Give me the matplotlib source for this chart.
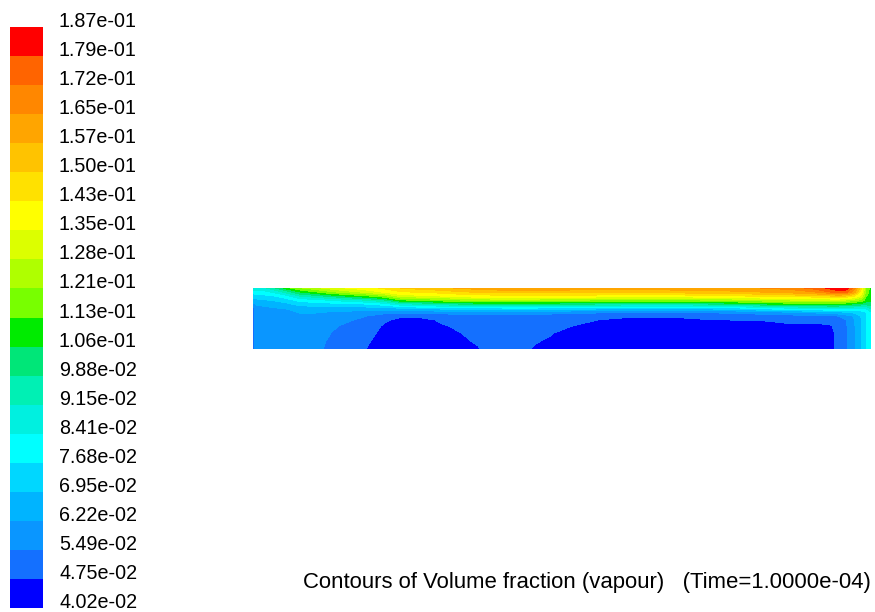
import numpy as np
import matplotlib
matplotlib.use("Agg")
import matplotlib.pyplot as plt
from matplotlib.colors import ListedColormap, BoundaryNorm
from matplotlib.ticker import NullLocator
import matplotlib.colorbar as mcolorbar

plt.rcParams['font.family'] = ['Liberation Sans', 'DejaVu Sans']

# ---- data ----
levels = [0.0402, 0.0475, 0.0549, 0.0622, 0.0695, 0.0768, 0.0841, 0.0915,
          0.0988, 0.106, 0.113, 0.121, 0.128, 0.135, 0.143, 0.150, 0.157,
          0.165, 0.172, 0.179, 0.187]
tick_labels = ["4.02e-02", "4.75e-02", "5.49e-02", "6.22e-02", "6.95e-02",
               "7.68e-02", "8.41e-02", "9.15e-02", "9.88e-02", "1.06e-01",
               "1.13e-01", "1.21e-01", "1.28e-01", "1.35e-01", "1.43e-01",
               "1.50e-01", "1.57e-01", "1.65e-01", "1.72e-01", "1.79e-01",
               "1.87e-01"]
band_colors = ["#0000ff", "#1470ff", "#0a96ff", "#00b4ff", "#00d7ff",
               "#00ffff", "#00f0e0", "#00f0b4", "#00e678", "#00eb00",
               "#78ff00", "#afff00", "#dcff00", "#ffff00", "#ffe100",
               "#ffc300", "#ffa500", "#ff8700", "#ff6400", "#ff0000"]

# domain coordinates (distance along the channel, depth from top surface)
x_pos = [0, 4, 12, 22, 34, 47, 62, 77, 92, 107, 119, 132, 147, 167, 187,
         207, 225, 237, 252, 267, 282, 297, 317, 337, 362, 387, 417, 447,
         477, 507, 537, 562, 577, 585, 593, 601, 608, 613, 618]
depth = [0, 4, 8, 12, 16, 20, 24, 28, 32, 38, 45, 53, 61]

# vapour volume fraction in percent, one list per x position (top -> bottom)
vf_columns = [
    [8.8, 8.0, 7.3, 6.6, 6.0, 5.3, 5.2, 5.2, 5.2, 5.2, 5.2, 5.2, 5.2],
    [8.8, 8.1, 7.4, 6.8, 6.3, 6.0, 5.9, 5.8, 5.8, 5.8, 5.8, 5.8, 5.8],
    [9.0, 8.2, 7.5, 6.9, 6.4, 6.1, 5.9, 5.8, 5.8, 5.8, 5.8, 5.8, 5.8],
    [9.8, 8.6, 7.7, 7.1, 6.5, 6.2, 6.0, 5.9, 5.8, 5.8, 5.8, 5.8, 5.8],
    [11.0, 9.5, 8.2, 7.4, 6.8, 6.3, 6.0, 5.9, 5.8, 5.8, 5.8, 5.8, 5.8],
    [12.0, 10.6, 9.2, 8.0, 7.2, 6.6, 6.3, 6.0, 5.9, 5.8, 5.8, 5.8, 5.8],
    [12.6, 11.2, 9.6, 8.2, 7.3, 6.7, 6.3, 6.0, 5.8, 5.7, 5.6, 5.6, 5.6],
    [13.1, 11.9, 10.1, 8.5, 7.4, 6.7, 6.2, 5.9, 5.7, 5.6, 5.5, 5.45, 5.4],
    [13.5, 12.4, 10.6, 8.8, 7.5, 6.7, 6.1, 5.8, 5.6, 5.4, 5.3, 5.2, 5.2],
    [13.8, 12.8, 11.0, 9.1, 7.6, 6.7, 6.0, 5.6, 5.4, 5.2, 5.1, 5.0, 4.9],
    [14.1, 13.2, 11.4, 9.4, 7.8, 6.7, 5.9, 5.4, 5.1, 4.95, 4.85, 4.72, 4.6],
    [14.5, 13.6, 11.9, 9.9, 8.1, 6.8, 5.8, 5.1, 4.85, 4.65, 4.55, 4.5, 4.5],
    [15.0, 14.2, 13.0, 11.2, 8.9, 7.0, 5.8, 4.85, 4.6, 4.5, 4.45, 4.45, 4.5],
    [15.3, 14.4, 13.3, 11.5, 9.3, 7.2, 5.8, 4.85, 4.6, 4.5, 4.5, 4.5, 4.55],
    [15.5, 14.6, 13.5, 11.8, 9.6, 7.3, 5.9, 5.0, 4.8, 4.7, 4.6, 4.6, 4.6],
    [15.8, 14.9, 13.8, 12.1, 9.9, 7.5, 6.0, 5.1, 4.9, 4.82, 4.74, 4.68, 4.65],
    [16.0, 15.1, 14.0, 12.3, 10.1, 7.6, 6.0, 5.2, 4.95, 4.9, 4.85, 4.8, 4.72],
    [16.1, 15.2, 14.0, 12.4, 10.1, 7.6, 6.0, 5.3, 5.0, 4.95, 4.95, 4.9, 4.9],
    [16.2, 15.3, 14.1, 12.4, 10.2, 7.7, 6.0, 5.3, 5.0, 4.95, 4.95, 4.9, 4.88],
    [16.2, 15.3, 14.1, 12.4, 10.2, 7.7, 6.0, 5.2, 4.95, 4.9, 4.88, 4.85, 4.82],
    [16.2, 15.3, 14.1, 12.4, 10.2, 7.7, 5.9, 5.15, 4.95, 4.88, 4.82, 4.77, 4.72],
    [16.2, 15.3, 14.1, 12.3, 10.1, 7.6, 5.9, 5.1, 4.9, 4.83, 4.77, 4.72, 4.65],
    [16.1, 15.3, 14.0, 12.2, 10.0, 7.5, 5.8, 5.0, 4.83, 4.76, 4.67, 4.6, 4.55],
    [16.1, 15.3, 14.0, 12.1, 9.9, 7.4, 5.7, 4.95, 4.78, 4.68, 4.6, 4.55, 4.5],
    [16.0, 15.2, 13.9, 12.0, 9.8, 7.3, 5.6, 4.85, 4.68, 4.6, 4.55, 4.5, 4.5],
    [16.0, 15.2, 13.9, 12.0, 9.7, 7.2, 5.5, 4.8, 4.62, 4.55, 4.5, 4.5, 4.5],
    [16.1, 15.3, 13.9, 12.0, 9.7, 7.2, 5.5, 4.8, 4.62, 4.55, 4.5, 4.5, 4.5],
    [16.2, 15.4, 14.0, 12.1, 9.8, 7.3, 5.6, 4.9, 4.7, 4.6, 4.55, 4.5, 4.5],
    [16.3, 15.5, 14.2, 12.3, 10.1, 7.5, 5.7, 5.0, 4.75, 4.62, 4.55, 4.5, 4.5],
    [16.5, 15.7, 14.4, 12.6, 10.5, 8.0, 6.0, 5.05, 4.76, 4.62, 4.55, 4.5, 4.5],
    [16.8, 16.0, 14.6, 12.8, 10.9, 8.5, 6.3, 5.2, 4.85, 4.68, 4.6, 4.55, 4.55],
    [17.5, 16.5, 14.8, 12.9, 10.9, 8.7, 6.5, 5.3, 4.85, 4.68, 4.6, 4.58, 4.58],
    [18.1, 17.2, 15.0, 13.0, 11.0, 8.8, 6.7, 5.4, 4.9, 4.7, 4.62, 4.62, 4.65],
    [18.5, 17.6, 15.2, 13.0, 11.0, 8.8, 6.9, 5.5, 5.0, 4.9, 4.85, 4.85, 4.85],
    [18.4, 17.4, 15.0, 12.8, 10.8, 8.7, 7.0, 5.9, 5.45, 5.4, 5.4, 5.4, 5.4],
    [17.0, 16.0, 14.4, 12.3, 10.5, 8.7, 7.2, 6.3, 6.15, 6.1, 6.1, 6.1, 6.1],
    [14.5, 14.0, 13.3, 12.0, 10.3, 8.6, 7.3, 7.0, 6.9, 6.9, 6.9, 6.9, 6.9],
    [12.0, 11.8, 11.4, 11.0, 10.2, 8.6, 7.7, 7.6, 7.6, 7.6, 7.6, 7.6, 7.6],
    [10.9, 10.9, 10.8, 10.7, 10.2, 9.3, 8.3, 8.2, 8.2, 8.2, 8.2, 8.2, 8.2],
]

title = "Contours of Volume fraction (vapour)   (Time=1.0000e-04)"

# ---- figure ----
W, H = 875, 612
fig = plt.figure(figsize=(W / 100, H / 100), dpi=100)
fig.patch.set_facecolor("white")

cmap = ListedColormap(band_colors)
norm = BoundaryNorm(levels, cmap.N)

field = np.array(vf_columns).T / 100.0
X, Y = np.meshgrid(x_pos, depth)

ax = fig.add_axes([253 / W, 1 - 349 / H, (871 - 253) / W, (349 - 288) / H])
cs = ax.contourf(X, Y, field, levels=levels, colors=band_colors, antialiased=False)
ax.set_xlim(x_pos[0], x_pos[-1])
ax.set_ylim(depth[-1], depth[0])
ax.axis("off")

# colour scale
cax = fig.add_axes([10 / W, 1 - 608 / H, (43 - 10) / W, (608 - 27) / H])
cb = mcolorbar.ColorbarBase(cax, cmap=cmap, norm=norm, boundaries=levels,
                            spacing="uniform", orientation="vertical")
cb.outline.set_visible(False)
cb.set_ticks([])
cax.yaxis.set_minor_locator(NullLocator())
cax.tick_params(which="both", length=0, labelleft=False, labelright=False)

n = len(levels) - 1
for i, lab in enumerate(tick_labels):
    frac = i / n
    cax.text(1.0 + (59 - 43) / (43 - 10), frac, lab, transform=cax.transAxes,
             ha="left", va="baseline", fontsize=14.2, color="black")

fig.text(871 / W, 1 - 588 / H, title, ha="right", va="baseline",
         fontsize=15.95, color="black")

fig.savefig("out.png", dpi=100, facecolor="white")
